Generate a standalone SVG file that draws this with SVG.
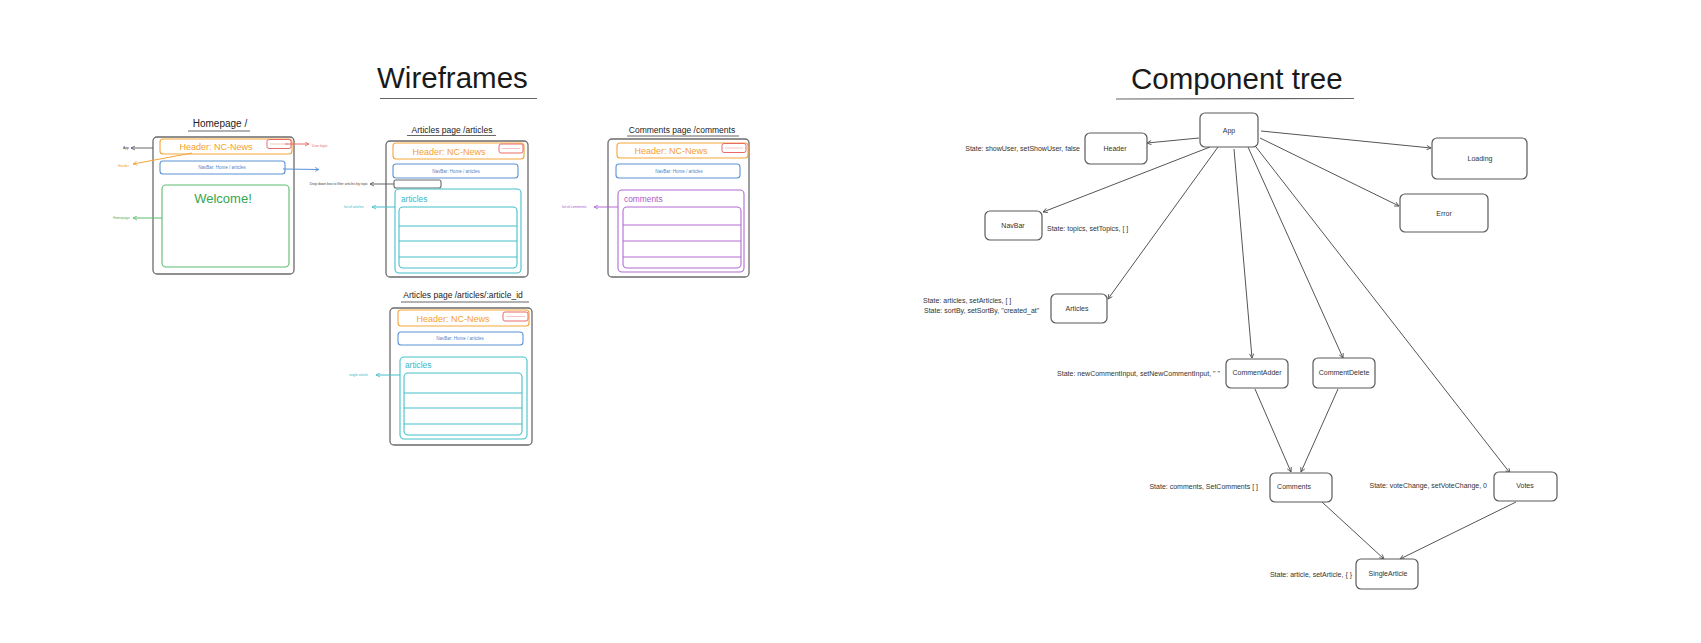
<svg xmlns="http://www.w3.org/2000/svg" width="1701" height="643" viewBox="0 0 1701 643">
<defs>
<style>
text{font-family:"Liberation Sans",Arial,sans-serif;}
.title{font-size:29.5px;fill:#1a1a1a;}
.uline{stroke:#666;stroke-width:1.2;}
.pt{font-size:9px;fill:#222;text-anchor:middle;}
.frame{fill:none;stroke:#6b6b6b;stroke-width:1.3;}
.hdr{fill:none;stroke:#f5a53a;stroke-width:1.1;}
.hdrt{font-size:9px;fill:#f5a030;text-anchor:middle;}
.red{fill:none;stroke:#e86a6a;stroke-width:1;}
.nav{fill:none;stroke:#5b93d6;stroke-width:1.1;}
.navt{font-size:4.5px;fill:#4f86c9;text-anchor:middle;}
.grn{fill:none;stroke:#5cbd6e;stroke-width:1.1;}
.teal{fill:none;stroke:#45bfcb;stroke-width:1.1;}
.tealt{font-size:8.3px;fill:#3bb5c3;}
.pur{fill:none;stroke:#b36ad3;stroke-width:1.1;}
.purt{font-size:8.4px;fill:#a95cc9;}
.tiny{font-size:3.4px;}
.node{fill:#fff;stroke:#5a5a5a;stroke-width:1.2;}
.nt{font-size:7px;fill:#333;text-anchor:middle;}
.st{font-size:7px;fill:#333;}
.edge{stroke:#555;stroke-width:1;fill:none;marker-end:url(#ah);}
</style>
<marker id="ah" viewBox="0 0 10 10" refX="9" refY="5" markerWidth="5.5" markerHeight="5.5" markerUnits="userSpaceOnUse" orient="auto"><path d="M1,1 L9,5 L1,9" fill="none" stroke="#555" stroke-width="1.6"/></marker>
<marker id="ahg" viewBox="0 0 10 10" refX="9" refY="5" markerWidth="5" markerHeight="5" markerUnits="userSpaceOnUse" orient="auto"><path d="M1,1 L9,5 L1,9" fill="none" stroke="#555" stroke-width="1.6"/></marker>
<marker id="aho" viewBox="0 0 10 10" refX="9" refY="5" markerWidth="5" markerHeight="5" markerUnits="userSpaceOnUse" orient="auto"><path d="M1,1 L9,5 L1,9" fill="none" stroke="#f5a53a" stroke-width="1.6"/></marker>
<marker id="ahr" viewBox="0 0 10 10" refX="9" refY="5" markerWidth="5" markerHeight="5" markerUnits="userSpaceOnUse" orient="auto"><path d="M1,1 L9,5 L1,9" fill="none" stroke="#e86a6a" stroke-width="1.6"/></marker>
<marker id="ahb" viewBox="0 0 10 10" refX="9" refY="5" markerWidth="5" markerHeight="5" markerUnits="userSpaceOnUse" orient="auto"><path d="M1,1 L9,5 L1,9" fill="none" stroke="#5b93d6" stroke-width="1.6"/></marker>
<marker id="ahgr" viewBox="0 0 10 10" refX="9" refY="5" markerWidth="5" markerHeight="5" markerUnits="userSpaceOnUse" orient="auto"><path d="M1,1 L9,5 L1,9" fill="none" stroke="#5cbd6e" stroke-width="1.6"/></marker>
<marker id="aht" viewBox="0 0 10 10" refX="9" refY="5" markerWidth="5" markerHeight="5" markerUnits="userSpaceOnUse" orient="auto"><path d="M1,1 L9,5 L1,9" fill="none" stroke="#45bfcb" stroke-width="1.6"/></marker>
<marker id="ahp" viewBox="0 0 10 10" refX="9" refY="5" markerWidth="5" markerHeight="5" markerUnits="userSpaceOnUse" orient="auto"><path d="M1,1 L9,5 L1,9" fill="none" stroke="#b36ad3" stroke-width="1.6"/></marker>
</defs>
<rect width="1701" height="643" fill="#fff"/>

<!-- Titles -->
<g id="title-wireframes">
<text class="title" x="377" y="88">Wireframes</text>
<line class="uline" x1="380" y1="98.5" x2="537" y2="98.5"/>
</g>
<g id="title-component-tree">
<text class="title" x="1131" y="89">Component tree</text>
<line class="uline" x1="1116" y1="99" x2="1354" y2="98.5"/>
</g>

<!-- Homepage wireframe -->
<g id="wf-homepage">
<text class="pt" x="220" y="127" style="font-size:10px">Homepage /</text>
<line class="uline" x1="188" y1="131" x2="250" y2="131"/>
<rect class="frame" x="153" y="137" width="141" height="137" rx="4"/>
<rect class="hdr" x="160" y="139" width="132" height="15" rx="3"/>
<text class="hdrt" x="216" y="150">Header: NC-News</text>
<rect class="red" x="267" y="139.5" width="24" height="9" rx="2"/>
<line x1="270" y1="144" x2="288" y2="144" stroke="#e86a6a" stroke-width="0.4"/>
<rect class="nav" x="160" y="161" width="125" height="13" rx="3"/>
<text class="navt" x="222" y="169">NavBar: Home / articles</text>
<rect class="grn" x="162" y="185" width="127" height="82" rx="4"/>
<text x="223" y="203" style="font-size:13px;fill:#36a54c;text-anchor:middle">Welcome!</text>
<line x1="153" y1="148" x2="131" y2="148" stroke="#555" stroke-width="0.9" marker-end="url(#ahg)"/>
<text class="tiny" x="129" y="149.2" style="fill:#333;text-anchor:end">App</text>
<line x1="192" y1="153" x2="133" y2="164" stroke="#f5a53a" stroke-width="1" marker-end="url(#aho)"/>
<text class="tiny" x="118" y="166.5" style="fill:#f5a030">Header</text>
<line x1="285" y1="144" x2="309" y2="144" stroke="#e86a6a" stroke-width="1" marker-end="url(#ahr)"/>
<text class="tiny" x="312" y="147" style="fill:#e86a6a">User login</text>
<line x1="283" y1="169" x2="319" y2="169.5" stroke="#5b93d6" stroke-width="1" marker-end="url(#ahb)"/>
<line x1="162" y1="218" x2="133" y2="218" stroke="#5cbd6e" stroke-width="1" marker-end="url(#ahgr)"/>
<text class="tiny" x="113" y="219.2" style="fill:#4fae60">Homepage</text>
</g>

<!-- Articles page wireframe -->
<g id="wf-articles">
<text class="pt" x="452" y="133" style="font-size:8.5px">Articles page /articles</text>
<line class="uline" x1="407" y1="135.5" x2="496" y2="135.5"/>
<rect class="frame" x="386" y="141" width="142" height="136" rx="4"/>
<rect class="hdr" x="393" y="143" width="131" height="16" rx="3"/>
<text class="hdrt" x="449" y="154.5">Header: NC-News</text>
<rect class="red" x="499" y="144" width="24" height="9" rx="2"/>
<line x1="502" y1="148.5" x2="520" y2="148.5" stroke="#e86a6a" stroke-width="0.4"/>
<rect class="nav" x="393" y="164" width="125" height="14" rx="3"/>
<text class="navt" x="456" y="172.5">NavBar: Home / articles</text>
<rect x="394" y="180" width="47" height="8" rx="2" fill="none" stroke="#6b6b6b" stroke-width="1.1"/>
<rect class="teal" x="395" y="189" width="126" height="84" rx="4"/>
<text class="tealt" x="401" y="202">articles</text>
<rect class="teal" x="399" y="207" width="118" height="61" rx="4"/>
<line x1="399" y1="226" x2="517" y2="226" stroke="#45bfcb" stroke-width="1"/>
<line x1="399" y1="241" x2="517" y2="241" stroke="#45bfcb" stroke-width="1"/>
<line x1="399" y1="257" x2="517" y2="257" stroke="#45bfcb" stroke-width="1"/>
<line x1="394" y1="184" x2="370" y2="184" stroke="#555" stroke-width="0.9" marker-end="url(#ahg)"/>
<text class="tiny" x="368" y="185.3" style="fill:#444;text-anchor:end">Drop down box to filter articles by topic</text>
<line x1="395" y1="207" x2="372" y2="207" stroke="#45bfcb" stroke-width="1" marker-end="url(#aht)"/>
<text class="tiny" x="344" y="208.3" style="fill:#3bb5c3">list of articles</text>
</g>

<!-- Comments page wireframe -->
<g id="wf-comments">
<text class="pt" x="682" y="133" style="font-size:8.5px">Comments page /comments</text>
<line class="uline" x1="627" y1="136" x2="739" y2="136"/>
<rect class="frame" x="608" y="139" width="141" height="138" rx="4"/>
<rect class="hdr" x="617" y="143" width="131" height="15" rx="3"/>
<text class="hdrt" x="671" y="154">Header: NC-News</text>
<rect class="red" x="722" y="143.5" width="24" height="9" rx="2"/>
<line x1="725" y1="148" x2="743" y2="148" stroke="#e86a6a" stroke-width="0.4"/>
<rect class="nav" x="616" y="164" width="124" height="14" rx="3"/>
<text class="navt" x="679" y="172.5">NavBar: Home / articles</text>
<rect class="pur" x="618" y="190" width="126" height="82" rx="4"/>
<text class="purt" x="624" y="202">comments</text>
<rect class="pur" x="623" y="207" width="118" height="61" rx="4"/>
<line x1="623" y1="225" x2="741" y2="225" stroke="#b36ad3" stroke-width="1"/>
<line x1="623" y1="241" x2="741" y2="241" stroke="#b36ad3" stroke-width="1"/>
<line x1="623" y1="257" x2="741" y2="257" stroke="#b36ad3" stroke-width="1"/>
<line x1="618" y1="207" x2="594" y2="207" stroke="#b36ad3" stroke-width="1" marker-end="url(#ahp)"/>
<text class="tiny" x="562" y="208.3" style="fill:#a95cc9">list of comments</text>
</g>

<!-- Single article wireframe -->
<g id="wf-single-article">
<text class="pt" x="463" y="298" style="font-size:8.5px">Articles page /articles/:article_id</text>
<line class="uline" x1="401" y1="302" x2="529" y2="302"/>
<rect class="frame" x="390" y="308" width="142" height="137" rx="4"/>
<rect class="hdr" x="398" y="310" width="131" height="16" rx="3"/>
<text class="hdrt" x="453" y="321.5">Header: NC-News</text>
<rect class="red" x="503" y="312" width="25" height="9" rx="2"/>
<line x1="506" y1="316.5" x2="525" y2="316.5" stroke="#e86a6a" stroke-width="0.4"/>
<rect class="nav" x="398" y="332" width="125" height="13" rx="3"/>
<text class="navt" x="460" y="340">NavBar: Home / articles</text>
<rect class="teal" x="400" y="357" width="127" height="82" rx="4"/>
<text class="tealt" x="405" y="368">articles</text>
<rect class="teal" x="404" y="373" width="118" height="62" rx="4"/>
<line x1="404" y1="393" x2="522" y2="393" stroke="#45bfcb" stroke-width="1"/>
<line x1="404" y1="408" x2="522" y2="408" stroke="#45bfcb" stroke-width="1"/>
<line x1="404" y1="424" x2="522" y2="424" stroke="#45bfcb" stroke-width="1"/>
<line x1="400" y1="375" x2="376" y2="375" stroke="#45bfcb" stroke-width="1" marker-end="url(#aht)"/>
<text class="tiny" x="349" y="376.3" style="fill:#3bb5c3">single article</text>
</g>

<!-- Component tree connectors -->
<g id="connectors">
<line class="edge" x1="1199" y1="138" x2="1147" y2="143"/>
<line class="edge" x1="1210" y1="147" x2="1043" y2="212"/>
<line class="edge" x1="1218" y1="147" x2="1108" y2="299"/>
<line class="edge" x1="1234" y1="149" x2="1252" y2="358"/>
<line class="edge" x1="1248" y1="147" x2="1343" y2="358"/>
<line class="edge" x1="1256" y1="147" x2="1510" y2="473"/>
<line class="edge" x1="1261" y1="131" x2="1431" y2="148"/>
<line class="edge" x1="1260" y1="138" x2="1399" y2="206"/>
<line class="edge" x1="1255" y1="389" x2="1291" y2="472"/>
<line class="edge" x1="1338" y1="389" x2="1301" y2="472"/>
<line class="edge" x1="1322" y1="502" x2="1384" y2="559"/>
<line class="edge" x1="1516" y1="502" x2="1400" y2="559"/>
</g>

<!-- Component tree nodes -->
<g id="node-app"><rect class="node" x="1200" y="113" width="58" height="34" rx="5"/><text class="nt" x="1229" y="133">App</text></g>
<g id="node-header"><rect class="node" x="1085" y="133" width="62" height="31" rx="5"/><text class="nt" x="1115" y="151">Header</text><text class="st" x="1080" y="151" text-anchor="end">State: showUser, setShowUser, false</text></g>
<g id="node-navbar"><rect class="node" x="985" y="211" width="57" height="29" rx="5"/><text class="nt" x="1013" y="228">NavBar</text><text class="st" x="1047" y="231">State: topics, setTopics, [ ]</text></g>
<g id="node-loading"><rect class="node" x="1432" y="138" width="95" height="41" rx="5"/><text class="nt" x="1480" y="161">Loading</text></g>
<g id="node-error"><rect class="node" x="1400" y="194" width="88" height="38" rx="5"/><text class="nt" x="1444" y="215.5">Error</text></g>
<g id="node-articles"><rect class="node" x="1051" y="294" width="56" height="29" rx="5"/><text class="nt" x="1077" y="311">Articles</text><text class="st" x="923" y="303">State: articles, setArticles, [ ]</text><text class="st" x="924" y="313">State: sortBy, setSortBy, "created_at"</text></g>
<g id="node-commentadder"><rect class="node" x="1226" y="359" width="62" height="29" rx="5"/><text class="nt" x="1257" y="375">CommentAdder</text><text class="st" x="1220" y="376" text-anchor="end">State: newCommentInput, setNewCommentInput, " "</text></g>
<g id="node-commentdelete"><rect class="node" x="1313" y="358" width="62" height="30" rx="5"/><text class="nt" x="1344" y="375">CommentDelete</text></g>
<g id="node-comments"><rect class="node" x="1270" y="473" width="62" height="29" rx="5"/><text class="nt" x="1294" y="489">Comments</text><text class="st" x="1258" y="489" text-anchor="end">State: comments, SetComments [ ]</text></g>
<g id="node-votes"><rect class="node" x="1494" y="472" width="63" height="29" rx="5"/><text class="nt" x="1525" y="488">Votes</text><text class="st" x="1487" y="488" text-anchor="end">State: voteChange, setVoteChange, 0</text></g>
<g id="node-singlearticle"><rect class="node" x="1356" y="559" width="62" height="30" rx="5"/><text class="nt" x="1388" y="576">SingleArticle</text><text class="st" x="1352" y="577" text-anchor="end">State: article, setArticle, { }</text></g>
</svg>
